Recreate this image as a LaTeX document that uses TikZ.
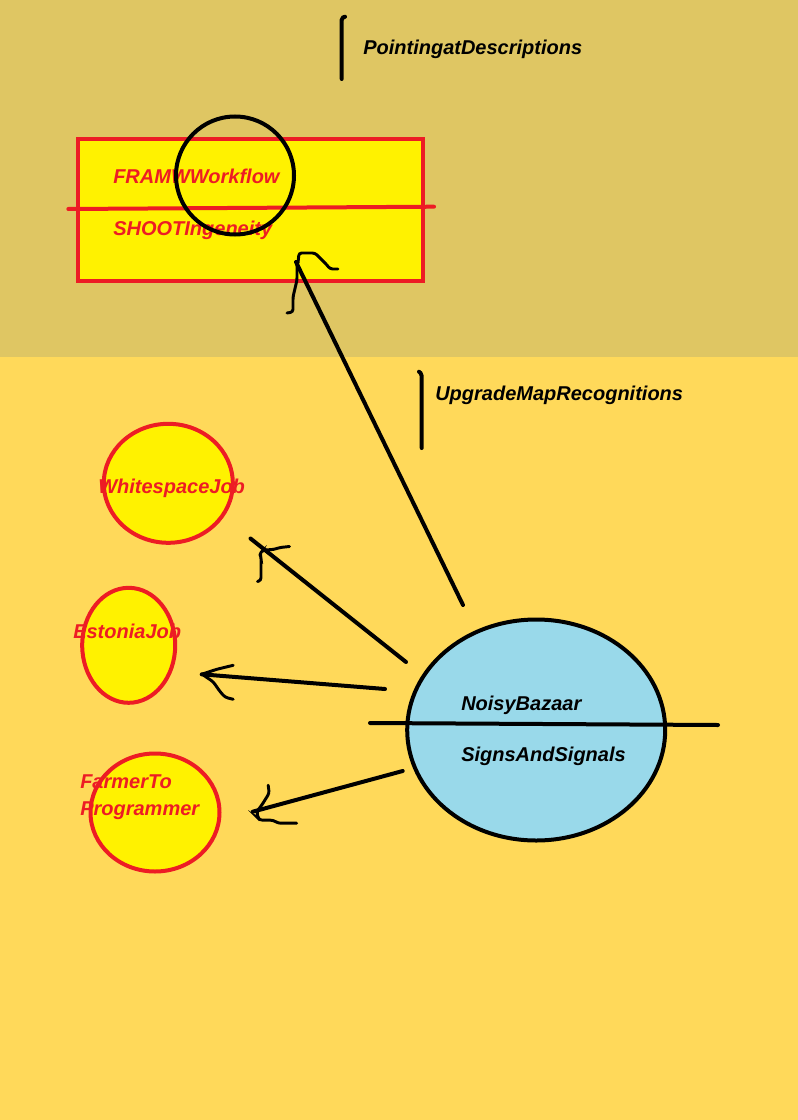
\documentclass[tikz,border=0pt]{standalone}
\usepackage{fontspec}
\setmainfont{Liberation Sans}
\usetikzlibrary{shapes.geometric}

\definecolor{topbg}{RGB}{223,198,99}
\definecolor{lowbg}{RGB}{255,217,90}
\definecolor{paintred}{RGB}{237,28,36}
\definecolor{paintyellow}{RGB}{255,242,0}
\definecolor{paintblue}{RGB}{153,217,234}

\newcommand{\unitpx}{0.75pt}

\begin{document}
\begin{tikzpicture}[x = \unitpx, y = -\unitpx,
  lbl/.style = {anchor = base west, inner sep = 0pt, font = \fontsize{15}{20}\selectfont\bfseries\itshape},
  jobcircle/.style = {ellipse, draw = paintred, fill = paintyellow, line width = 3pt, inner sep = 0pt},
  pen/.style = {line width = 3pt, line cap = round},
  hand/.style = {line width = 2.2pt, line cap = round, rounded corners = 2pt}]

\useasboundingbox (0,0) rectangle (798,1120);
\fill[topbg] (0,0) rectangle (798,357);
\fill[lowbg] (0,357) rectangle (798,1120);

% captions with their bars
\coordinate (p1) at (341.7,79);
\coordinate (p2) at (341.7,20);
\draw[pen] (p1) -- (p2) -- (343,17.5) -- (345,16.7);
\node[lbl] (cap1) at (363,55) {PointingatDescriptions};

\coordinate (q1) at (421.7,448);
\coordinate (q2) at (421.7,376);
\draw[pen] (q1) -- (q2) -- (420.5,373) -- (419,371.7);
\node[lbl] (cap2) at (435,400) {UpgradeMapRecognitions};

% the box at the top
\draw[paintred, fill = paintyellow, line width = 3pt] (78,139.3) rectangle (423,281.3);
\node[lbl, text = paintred] (v1) at (113,183) {FRAMWWorkflow};
\node[lbl, text = paintred] (v2) at (113,235) {SHOOTIngeneity};
\coordinate (r1) at (68.3,209);
\coordinate (r2) at (434,206.7);
\draw[paintred, line width = 3pt, line cap = round] (r1) -- (r2);
\node[circle, draw, line width = 3pt, minimum size = 118*\unitpx, inner sep = 0pt] (ring) at (235,175.5) {};

% the jobs
\node[jobcircle, minimum width = 129*\unitpx, minimum height = 119*\unitpx] (j1) at (168.3,483.3) {};
\node[lbl, text = paintred] (t1) at (98,493) {WhitespaceJob};

\node[jobcircle, minimum width = 93*\unitpx, minimum height = 115*\unitpx] (j2) at (128.7,645.3) {};
\node[lbl, text = paintred] (t2) at (73,638) {EstoniaJob};

\node[jobcircle, minimum width = 129*\unitpx, minimum height = 118*\unitpx] (j3) at (155,812.5) {};
\node[lbl, text = paintred] (t3) at (80,788) {FarmerTo};
\node[lbl, text = paintred] (t4) at (80,815) {Programmer};

% the bazaar
\node[ellipse, draw, fill = paintblue, line width = 3pt, inner sep = 0pt,
  minimum width = 258*\unitpx, minimum height = 221*\unitpx] (bz) at (536.2,730) {};
\coordinate (s1) at (370,723);
\coordinate (s2) at (718,725);
\draw[pen] (s1) -- (s2);
\node[lbl] (b1) at (461,710) {NoisyBazaar};
\node[lbl] (b2) at (461,761.7) {SignsAndSignals};

% arrows
\coordinate (a1) at (463,605);
\coordinate (h1) at (296,262);
\coordinate (a2) at (406,662);
\coordinate (h2) at (250.5,538.5);
\coordinate (a3) at (385,689);
\coordinate (h3) at (201.7,674.3);
\coordinate (a4) at (402.7,771);
\coordinate (h4) at (252.7,811.7);

\draw[pen] (a1) -- (h1);
\draw[pen] (a2) -- (h2);
\draw[pen] (a3) -- (h3);
\draw[pen] (a4) -- (h4);

\begin{scope}[shift = {(h1)}]
\draw[hand] (2,1) -- (3,-9) -- (19,-9) -- (31,3) -- (34,7) -- (42,7);
\draw[hand] (1,3) -- (1,18) -- (-3,35) -- (-3,50) -- (-9,51);
\end{scope}

\begin{scope}[shift = {(h2)}]
\draw[hand] (7,43) -- (10.5,42) -- (10.5,18) -- (9,15) -- (13,11.5) -- (23,11) -- (29.5,9) -- (39,8);
\end{scope}

\begin{scope}[shift = {(h3)}]
\draw[hand] (0,0) -- (15,-5) -- (31.5,-9);
\draw[hand] (1.5,0.7) -- (11.5,7.5) -- (18.5,17.5) -- (23.5,23) -- (31.5,25);
\end{scope}

\begin{scope}[shift = {(h4)}]
\draw[hand] (15.5,-26.5) -- (16.5,-18.5) -- (9,-6.5) -- (4,0) -- (5.5,6.5) -- (7.5,8.5) -- (20.5,8.5) -- (25.5,11.5) -- (44,11.5);
\end{scope}

\end{tikzpicture}
\end{document}
